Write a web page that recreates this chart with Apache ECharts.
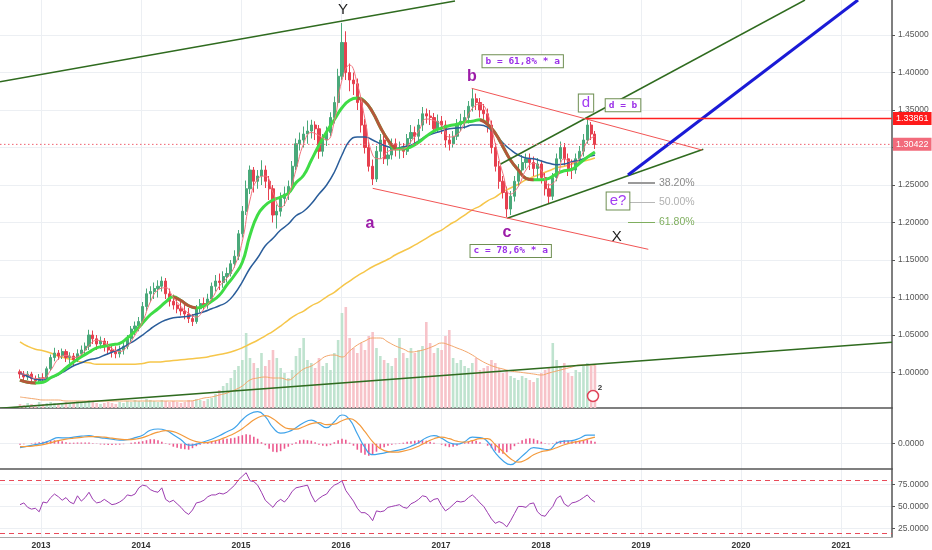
<!DOCTYPE html>
<html>
<head>
<meta charset="utf-8">
<title>USDCAD weekly</title>
<script src="https://cdn.jsdelivr.net/npm/echarts@6/dist/echarts.min.js"></script>
<style>
  html, body { margin: 0; padding: 0; background: #fff; }
  #chart { width: 932px; height: 550px; }
</style>
</head>
<body>
<div id="chart"></div>
<script>
// bars are two weeks apart, time is kept in fractional years
const firstBar = 2012.79;
const barStep = 14 / 365.25;

// [open, close, low, high]
const candles = [
  [1.001,0.998,0.992,1.004],[0.998,0.994,0.989,1.002],[0.994,0.998,0.990,1.002],[0.998,0.992,0.987,1.001],
  [0.992,0.989,0.984,0.996],[0.989,0.993,0.985,0.998],[0.993,0.992,0.986,0.999],[0.992,1.005,0.990,1.008],
  [1.005,1.020,1.002,1.024],[1.020,1.026,1.015,1.033],[1.026,1.022,1.017,1.030],[1.022,1.028,1.018,1.032],
  [1.028,1.020,1.014,1.031],[1.020,1.022,1.012,1.027],[1.022,1.017,1.010,1.026],[1.017,1.025,1.014,1.031],
  [1.025,1.030,1.020,1.036],[1.030,1.035,1.022,1.040],[1.035,1.050,1.030,1.057],[1.050,1.045,1.038,1.056],
  [1.045,1.038,1.030,1.050],[1.038,1.042,1.032,1.048],[1.042,1.035,1.028,1.046],[1.035,1.030,1.024,1.042],
  [1.030,1.028,1.020,1.037],[1.028,1.025,1.019,1.035],[1.025,1.030,1.020,1.036],[1.030,1.035,1.024,1.040],
  [1.035,1.045,1.031,1.050],[1.045,1.058,1.040,1.062],[1.058,1.062,1.050,1.068],[1.062,1.068,1.055,1.074],
  [1.068,1.088,1.063,1.094],[1.088,1.105,1.082,1.112],[1.105,1.108,1.094,1.115],[1.108,1.112,1.098,1.120],
  [1.112,1.115,1.100,1.123],[1.115,1.122,1.108,1.128],[1.122,1.105,1.098,1.126],[1.105,1.095,1.088,1.112],
  [1.095,1.090,1.084,1.104],[1.090,1.085,1.079,1.097],[1.085,1.082,1.076,1.094],[1.082,1.078,1.071,1.090],
  [1.078,1.072,1.066,1.086],[1.072,1.068,1.062,1.078],[1.068,1.085,1.065,1.090],[1.085,1.092,1.080,1.098],
  [1.092,1.090,1.083,1.100],[1.090,1.098,1.085,1.105],[1.098,1.115,1.094,1.120],[1.115,1.122,1.108,1.130],
  [1.122,1.120,1.110,1.132],[1.120,1.128,1.113,1.135],[1.128,1.132,1.120,1.140],[1.132,1.145,1.128,1.150],
  [1.145,1.155,1.140,1.163],[1.155,1.185,1.150,1.190],[1.185,1.215,1.180,1.222],[1.215,1.245,1.210,1.256],
  [1.245,1.270,1.238,1.276],[1.270,1.255,1.240,1.274],[1.255,1.262,1.245,1.270],[1.262,1.270,1.250,1.283],
  [1.270,1.255,1.246,1.276],[1.255,1.245,1.230,1.262],[1.245,1.210,1.200,1.250],[1.210,1.215,1.192,1.224],
  [1.215,1.232,1.208,1.240],[1.232,1.238,1.222,1.248],[1.238,1.248,1.230,1.256],[1.248,1.275,1.242,1.282],
  [1.275,1.305,1.270,1.312],[1.305,1.310,1.296,1.320],[1.310,1.318,1.300,1.328],[1.318,1.322,1.305,1.336],
  [1.322,1.330,1.312,1.337],[1.330,1.325,1.310,1.335],[1.325,1.295,1.285,1.330],[1.295,1.310,1.288,1.318],
  [1.310,1.320,1.302,1.328],[1.320,1.340,1.315,1.347],[1.340,1.360,1.332,1.368],[1.360,1.395,1.355,1.405],
  [1.395,1.440,1.390,1.466],[1.440,1.400,1.390,1.455],[1.400,1.390,1.375,1.412],[1.390,1.385,1.370,1.400],
  [1.385,1.360,1.350,1.392],[1.360,1.330,1.320,1.366],[1.330,1.300,1.292,1.338],[1.300,1.275,1.268,1.308],
  [1.275,1.258,1.250,1.284],[1.258,1.295,1.254,1.302],[1.295,1.310,1.285,1.318],[1.310,1.285,1.278,1.316],
  [1.285,1.290,1.276,1.300],[1.290,1.305,1.284,1.312],[1.305,1.298,1.288,1.312],[1.298,1.300,1.285,1.308],
  [1.300,1.295,1.286,1.306],[1.295,1.312,1.290,1.318],[1.312,1.320,1.305,1.330],[1.320,1.315,1.306,1.328],
  [1.315,1.330,1.310,1.338],[1.330,1.345,1.322,1.354],[1.345,1.342,1.332,1.352],[1.342,1.340,1.330,1.350],
  [1.340,1.325,1.318,1.346],[1.325,1.335,1.320,1.344],[1.335,1.330,1.318,1.342],[1.330,1.310,1.300,1.336],
  [1.310,1.305,1.296,1.318],[1.305,1.315,1.300,1.322],[1.315,1.330,1.310,1.338],[1.330,1.335,1.322,1.345],
  [1.335,1.340,1.325,1.350],[1.340,1.355,1.332,1.362],[1.355,1.365,1.348,1.379],[1.365,1.360,1.350,1.372],
  [1.360,1.350,1.340,1.366],[1.350,1.345,1.335,1.358],[1.345,1.330,1.320,1.352],[1.330,1.300,1.292,1.336],
  [1.300,1.275,1.268,1.306],[1.275,1.255,1.245,1.282],[1.255,1.240,1.232,1.262],[1.240,1.218,1.207,1.248],
  [1.218,1.235,1.210,1.242],[1.235,1.255,1.228,1.262],[1.255,1.270,1.248,1.278],[1.270,1.280,1.262,1.290],
  [1.280,1.285,1.272,1.292],[1.285,1.280,1.270,1.292],[1.280,1.272,1.262,1.288],[1.272,1.278,1.258,1.286],
  [1.278,1.260,1.252,1.283],[1.260,1.245,1.236,1.266],[1.245,1.235,1.226,1.252],[1.235,1.260,1.230,1.266],
  [1.260,1.285,1.255,1.292],[1.285,1.300,1.280,1.308],[1.300,1.285,1.276,1.306],[1.285,1.272,1.262,1.292],
  [1.272,1.270,1.258,1.284],[1.270,1.285,1.265,1.292],[1.285,1.295,1.280,1.302],[1.295,1.310,1.288,1.318],
  [1.310,1.330,1.305,1.339],[1.330,1.318,1.310,1.334],[1.318,1.304,1.298,1.322]
];

const volumes = [
  4,3,5,4,3,6,4,5,6,5, 4,5,6,4,5,7,5,6,8,6, 5,4,5,6,5,4,6,5,7,6,
  8,7,6,9,8,7,6,8,7,6, 7,6,5,6,8,7,9,8,7,9, 10,14,18,22,25,30,38,42,48,75,
  50,45,40,55,42,48,58,50,40,35, 30,38,52,60,70,48,45,40,50,42, 45,38,55,68,95,101,70,60,55,65,
  58,72,76,60,52,48,45,42,50,70, 55,50,60,55,58,62,86,65,55,60, 58,72,78,50,45,48,42,40,45,50,
  38,40,42,48,45,40,35,38,32,30, 28,32,30,28,26,30,35,38,40,65, 48,42,45,35,32,38,36,42,45,42,
  44
];

// moving averages, read every second bar (four weeks)
const fastMA = [
  0.998,0.997,0.992,0.992,1.003,1.018,1.023,1.020,1.024,1.036,
  1.043,1.040,1.032,1.028,1.035,1.050,1.068,1.094,1.110,1.113,
  1.100,1.088,1.079,1.074,1.085,1.098,1.115,1.126,1.142,1.175,
  1.230,1.258,1.262,1.240,1.220,1.236,1.270,1.305,1.320,1.316,
  1.310,1.335,1.390,1.410,1.385,1.338,1.290,1.285,1.295,1.297,
  1.298,1.308,1.322,1.338,1.336,1.330,1.314,1.317,1.333,1.352,
  1.358,1.345,1.305,1.265,1.238,1.248,1.270,1.279,1.270,1.250,
  1.258,1.285,1.280,1.285,1.308,1.315
];
const trendMA = [
  0.990,0.987,0.986,0.987,0.993,0.998,1.006,1.014,1.021,1.027,
  1.033,1.035,1.037,1.039,1.046,1.055,1.066,1.077,1.085,1.094,
  1.101,1.096,1.089,1.086,1.089,1.095,1.103,1.117,1.130,1.147,
  1.183,1.210,1.223,1.230,1.234,1.239,1.253,1.263,1.283,1.303,
  1.321,1.337,1.353,1.363,1.366,1.361,1.347,1.327,1.310,1.298,
  1.298,1.301,1.307,1.315,1.322,1.326,1.329,1.331,1.334,1.335,
  1.337,1.331,1.319,1.301,1.283,1.270,1.259,1.257,1.257,1.259,
  1.265,1.269,1.271,1.279,1.287,1.294
];
const slowMA = [
  0.999,0.995,0.991,0.990,0.993,0.997,1.003,1.009,1.013,1.017,
  1.019,1.023,1.027,1.031,1.037,1.043,1.050,1.058,1.065,1.070,
  1.073,1.074,1.075,1.078,1.081,1.085,1.089,1.094,1.105,1.121,
  1.139,1.153,1.169,1.179,1.190,1.198,1.209,1.215,1.225,1.238,
  1.250,1.267,1.290,1.309,1.314,1.314,1.310,1.305,1.301,1.299,
  1.301,1.303,1.309,1.315,1.319,1.322,1.325,1.326,1.327,1.330,
  1.330,1.327,1.318,1.306,1.297,1.290,1.286,1.285,1.282,1.279,
  1.277,1.278,1.281,1.283,1.287,1.290
];
const ma200 = [
  1.041,1.035,1.031,1.029,1.026,1.022,1.019,1.017,1.014,1.013,
  1.011,1.011,1.011,1.011,1.011,1.011,1.012,1.014,1.014,1.015,
  1.016,1.017,1.018,1.019,1.020,1.022,1.024,1.026,1.029,1.033,
  1.038,1.043,1.049,1.055,1.062,1.070,1.077,1.082,1.089,1.094,
  1.101,1.107,1.115,1.122,1.129,1.135,1.141,1.146,1.151,1.157,
  1.162,1.167,1.173,1.179,1.185,1.190,1.197,1.203,1.210,1.217,
  1.222,1.229,1.234,1.241,1.246,1.251,1.257,1.261,1.265,1.269,
  1.273,1.275,1.278,1.281,1.283,1.286
];
const volumeMA = [
  11,10,9,8,8,8,7,7,7,7, 7,7,7,7,7,7,7,7,7,7,
  7,7,7,8,10,11,13,15,18,22, 28,30,31,30,30,28,33,39,42,47,
  52,53,51,57,63,67,70,70,66,62, 59,56,57,59,62,65,63,60,57,53,
  48,44,41,39,37,36,35,34,33,35, 37,39,41,43,43,43
];

// MACD in thousandths of a price unit, same four-week spacing
const macdLine = [
  -4,-2.5,-1,0.5,3.5,6,5.8,6.5,7.5,8,
  6.5,5.5,4.5,3.5,4,6,8.5,13.5,14.7,13.5,
  9,4,-1.5,-0.5,2,4.5,8,12,16,24,
  30,32,27,16,10.5,12,16,21,23.5,20,
  16,22,28.7,24,10,-4,-11,-10,-8.5,-7,
  -5.5,-2.5,1,6,8,5.5,1,-0.5,2,6.5,
  6,2,-9,-17,-21,-16,-9,-4,-5,-6,
  0.5,2.5,3,5.5,8.5,8.5
];
const signalLine = [
  -3,-2.8,-2,-1,1,3,4.5,5.5,6.3,7,
  7,6.5,5.5,4.5,4,4.5,6,9,11.5,13,
  12,9,5,2,1,2,4,7,10.5,15,
  21,26,28,25,19,15,14.5,17,20,21,
  19,19.5,23,25,21,12,2,-5,-8,-8.5,
  -7.5,-5.5,-2.5,1.5,5,6.5,5,2.5,1.5,3,
  5,5,-1,-8,-15,-18.5,-16,-11,-8,-6.5,
  -4,-1,1,2.5,4.5,6.5
];
// histogram, one value per bar
const macdHist = [
  -1,-0.5,0,0.5,1,1.5,2,2.5,3,3.5,
  3.5,2.5,1.5,1,1,1.2,1.2,1.3,1.2,0.5,
  -0.3,-0.8,-1,-1.2,-1.2,-1,-1,-0.5,0,1,
  1.5,2,2.5,3.5,4.5,4.5,3.5,2,0.5,-1,
  -3,-4,-5,-5.5,-6,-4.5,-2.5,-1,0.5,1.5,
  2.5,3,4,4.5,5,5.5,6,7.5,8.5,9.5,
  9,7,5,1.5,-1.5,-5,-8,-8.5,-7.5,-5,
  -3,-1,1.5,3.5,4,3.5,3,1.5,-1,-2,
  -2.5,-1.5,1.5,3.5,5,4,1,-2,-6,-9,
  -11,-12,-11,-8,-5,-3.5,-2,-1,-0.5,0.5,
  1,2,2.5,3,3.5,3.5,3,2,1,0,
  -1,-2.5,-3.5,-3,-2,0,1,2,3,3,
  1.5,0,-2,-4.5,-7,-9,-10,-8.5,-6,-2.5,
  1,3.5,5,5.5,5,3.5,2,0.5,-0.5,0.5,
  2,3,3.5,3,2.5,2.5,3,3.5,4,3,
  2
];
const rsi = [
  52,54,49,47,48,44,55,54,60,64,
  61,57,60,55,53,62,56,60,66,58,
  54,55,58,55,52,53,55,58,63,62,
  64,71,74,73,69,67,66,71,58,55,
  57,53,49,44,41,46,54,55,57,61,
  63,63,65,64,66,70,74,80,84,88,
  79,78,74,66,57,53,49,55,58,55,
  60,67,71,72,73,74,63,55,59,62,
  64,70,74,76,79,68,62,56,48,43,
  43,40,34,45,44,45,49,50,51,52,
  49,48,53,55,58,62,61,55,58,59,
  51,45,48,52,56,55,56,60,63,59,
  54,50,43,36,31,33,31,27,34,42,
  50,50,49,53,54,44,40,39,45,50,
  59,62,53,50,54,55,57,60,63,58,
  55
];
const rsiBands = [80, 20];

const lastPrice = 1.30422;
const dLevel = 1.33861;
const dTime = 2018.45;

const yearTicks = [2013, 2014, 2015, 2016, 2017, 2018, 2019, 2020, 2021];
const priceTicks = [1.00, 1.05, 1.10, 1.15, 1.20, 1.25, 1.30, 1.35, 1.40, 1.45];
// 1.30 sits under the last-price tag
const priceLabels = [1.00, 1.05, 1.10, 1.15, 1.20, 1.25, 1.35, 1.40, 1.45];
const macdTicks = [0];
const rsiTicks = [25, 50, 75];

// hand-drawn lines: [t1, price1, t2, price2, kind]
const drawings = [
  [2012.59, 1.3877, 2017.14, 1.4953, 'trend'],
  [2012.59, 0.9523, 2021.51, 1.0403, 'trend'],
  [2017.597, 1.278, 2020.64, 1.4967, 'trend'],
  [2017.663, 1.2056, 2019.623, 1.2976, 'trend'],
  [2017.307, 1.3789, 2019.61, 1.2967, 'channel'],
  [2016.317, 1.2456, 2019.073, 1.1643, 'channel'],
  [2018.87, 1.2633, 2021.17, 1.4967, 'target'],
  [2018.87, 1.2527, 2019.14, 1.2527, 'fib38'],
  [2018.87, 1.2273, 2019.14, 1.2273, 'fib50'],
  [2018.87, 1.2007, 2019.14, 1.2007, 'fib62']
];

// text notes: [t, price, text, kind]
const notes = [
  [2016.02, 1.4833, 'Y', 'wave'],
  [2017.31, 1.394, 'b', 'leg'],
  [2016.29, 1.198, 'a', 'leg'],
  [2017.66, 1.186, 'c', 'leg'],
  [2018.757, 1.1807, 'X', 'wave'],
  [2018.45, 1.3593, 'd', 'boxBig'],
  [2018.77, 1.2287, 'e?', 'boxBig'],
  [2018.82, 1.3563, 'd = b', 'boxSmall'],
  [2017.817, 1.415, 'b = 61,8% * a', 'boxSmall'],
  [2017.697, 1.162, 'c = 78,6% * a', 'boxSmall'],
  [2019.18, 1.2527, '38.20%', 'fib38'],
  [2019.18, 1.2273, '50.00%', 'fib50'],
  [2019.18, 1.2007, '61.80%', 'fib62']
];

const xMin = 2012.59, xMax = 2021.51;
const UP = '#4aa97a', DOWN = '#e6404f';
const FONT = 'Liberation Sans';

const barT = candles.map((_, i) => firstBar + i * barStep);
const maT = fastMA.map((_, k) => barT[k * 2]);
const pairs = (ts, vs) => vs.map((v, i) => [ts[i], v]);

// brown overlay where the trend MA is falling
const trendDown = trendMA.map((v, k) => {
  const prev = trendMA[k - 1], next = trendMA[k + 1];
  const falling = (prev !== undefined && v < prev) || (next !== undefined && next < v);
  return [maT[k], falling ? v : '-'];
});

const lineStyles = {
  trend: { color: '#2f6b1f', width: 1.5, opacity: 1 },
  channel: { color: '#f25555', width: 1, opacity: 1 },
  target: { color: '#1a1ad6', width: 3, opacity: 1 },
  fib38: { color: '#9a9a9a', width: 2, opacity: 1 },
  fib50: { color: '#b8b8b8', width: 1, opacity: 1 },
  fib62: { color: '#7fae5e', width: 1, opacity: 1 }
};
const box = { backgroundColor: '#fff', borderColor: '#6f8f52', borderWidth: 1 };
const noteStyles = {
  wave: { color: '#222', fontSize: 15, fontFamily: FONT },
  leg: { color: '#9c1ca8', fontSize: 16, fontWeight: 'bold', fontFamily: FONT },
  boxBig: Object.assign({ color: '#a23cf2', fontSize: 15, fontFamily: FONT, padding: [1, 3] }, box),
  boxSmall: Object.assign({ color: '#9b30e8', fontSize: 9.5, fontWeight: 'bold', fontFamily: 'DejaVu Sans Mono', padding: [1, 3] }, box),
  fib38: { color: '#8a8a8a', fontSize: 10.5, fontFamily: FONT, position: 'right', distance: 0 },
  fib50: { color: '#b0b0b0', fontSize: 10.5, fontFamily: FONT, position: 'right', distance: 0 },
  fib62: { color: '#7fae5e', fontSize: 10.5, fontFamily: FONT, position: 'right', distance: 0 }
};

const chart = echarts.init(document.getElementById('chart'));

const axisText = { color: '#555', fontSize: 8.5, fontFamily: FONT, margin: 6 };
const gridLine = { show: true, lineStyle: { color: '#eceff3', width: 1 } };

function xAxisFor(i) {
  return {
    type: 'value', gridIndex: i, min: xMin, max: xMax,
    axisLine: { show: true, onZero: false, lineStyle: { color: i < 2 ? '#555' : '#aaa', width: i < 2 ? 1.5 : 1 } },
    axisTick: { show: false, customValues: yearTicks },
    axisLabel: {
      show: i === 2, customValues: yearTicks, formatter: (v) => String(Math.round(v)),
      color: '#333', fontWeight: 'bold', fontSize: 8.5, fontFamily: FONT, margin: 4
    },
    splitLine: gridLine
  };
}

function yAxisFor(grid, min, max, ticks, labels, fmt) {
  return {
    type: 'value', gridIndex: grid, position: 'right', min: min, max: max,
    axisLine: { show: true, onZero: false, lineStyle: { color: '#555', width: 1.5 } },
    axisTick: { show: true, length: 3, customValues: ticks, lineStyle: { color: '#555' } },
    axisLabel: Object.assign({ customValues: labels, formatter: fmt }, axisText),
    splitLine: gridLine
  };
}

// horizontal price level with its tag on the price scale
function priceLevel(name, from, value, style, tagColor) {
  return {
    name: name, type: 'line', xAxisIndex: 0, yAxisIndex: 0, showSymbol: false, z: 7, clip: false, silent: true,
    lineStyle: style, data: [[from, value], [xMax, value]],
    endLabel: {
      show: true, distance: 1, color: '#fff', backgroundColor: tagColor, fontSize: 9,
      fontFamily: FONT, padding: [2, 3], formatter: value.toFixed(5)
    }
  };
}

const option = {
  animation: false,
  backgroundColor: '#fff',
  grid: [
    { left: 0, top: 0, width: 892, height: 408, outerBoundsMode: 'none', containLabel: false },
    { left: 0, top: 408, width: 892, height: 61, outerBoundsMode: 'none', containLabel: false },
    { left: 0, top: 469, width: 892, height: 68, outerBoundsMode: 'none', containLabel: false }
  ],
  xAxis: [xAxisFor(0), xAxisFor(1), xAxisFor(2)],
  yAxis: [
    yAxisFor(0, 0.9527, 1.4967, priceTicks, priceLabels, (v) => v.toFixed(5)),
    { type: 'value', gridIndex: 0, min: 0, max: 408, show: false, splitLine: { show: false } },
    yAxisFor(1, -25.3, 35.7, macdTicks, macdTicks, (v) => (v / 1000).toFixed(4)),
    yAxisFor(2, 15.6, 92.2, rsiTicks, rsiTicks, (v) => v.toFixed(4))
  ],
  series: [
    {
      name: 'Volume', type: 'bar', xAxisIndex: 0, yAxisIndex: 1, barWidth: 2.6, z: 1,
      data: volumes.map((v, i) => ({
        value: [barT[i], v],
        itemStyle: { color: candles[i][1] >= candles[i][0] ? '#bfe3cf' : '#f7c3c9' }
      }))
    },
    {
      name: 'Volume MA', type: 'line', xAxisIndex: 0, yAxisIndex: 1, showSymbol: false, smooth: true, z: 2,
      lineStyle: { color: '#f3a66a', width: 1 }, data: pairs(maT, volumeMA)
    },
    {
      name: 'MA 200', type: 'line', xAxisIndex: 0, yAxisIndex: 0, showSymbol: false, smooth: true, z: 2,
      lineStyle: { color: '#f6c64a', width: 1.5 }, data: pairs(maT, ma200)
    },
    {
      name: 'USDCAD', type: 'candlestick', xAxisIndex: 0, yAxisIndex: 0, barWidth: 2.6, z: 3,
      dimensions: ['t', 'open', 'close', 'low', 'high'],
      encode: { x: 't', y: ['open', 'close', 'low', 'high'] },
      itemStyle: { color: UP, color0: DOWN, borderColor: UP, borderColor0: DOWN, borderWidth: 1 },
      data: candles.map((c, i) => [barT[i]].concat(c))
    },
    priceLevel('Last price', xMin, lastPrice, { type: [1.5, 2.5], color: '#f0606f', width: 1 }, '#f26b7b'),
    priceLevel('d level', dTime, dLevel, { type: 'solid', color: '#ff2020', width: 1.5 }, '#ff1a1a'),
    {
      name: 'Slow EMA', type: 'line', xAxisIndex: 0, yAxisIndex: 0, showSymbol: false, smooth: true, z: 4,
      lineStyle: { color: '#2a5d9a', width: 1.5 }, data: pairs(maT, slowMA)
    },
    {
      name: 'Trend EMA', type: 'line', xAxisIndex: 0, yAxisIndex: 0, showSymbol: false, smooth: true, z: 4,
      lineStyle: { color: '#3fdc46', width: 3 }, data: pairs(maT, trendMA)
    },
    {
      name: 'Trend EMA falling', type: 'line', xAxisIndex: 0, yAxisIndex: 0, showSymbol: false, smooth: true, z: 4,
      connectNulls: false, lineStyle: { color: '#b4573a', width: 3 }, data: trendDown
    },
    {
      name: 'Fast EMA', type: 'line', xAxisIndex: 0, yAxisIndex: 0, showSymbol: false, smooth: true, z: 4,
      lineStyle: { color: '#f2737d', width: 1 }, data: pairs(maT, fastMA)
    },
    {
      name: 'Drawings', type: 'lines', coordinateSystem: 'cartesian2d', xAxisIndex: 0, yAxisIndex: 0, z: 5,
      clip: true, silent: true, lineStyle: { opacity: 1 },
      data: drawings.map((d) => ({ coords: [[d[0], d[1]], [d[2], d[3]]], lineStyle: lineStyles[d[4]] }))
    },
    {
      name: 'Notes', type: 'scatter', xAxisIndex: 0, yAxisIndex: 0, symbolSize: 0, z: 6, silent: true, clip: false,
      itemStyle: { opacity: 1 },
      data: notes.map((n) => ({
        value: [n[0], n[1]],
        label: Object.assign({ show: true, position: 'inside', formatter: n[2] }, noteStyles[n[3]])
      }))
    },
    {
      name: 'Events', type: 'scatter', xAxisIndex: 0, yAxisIndex: 0, symbol: 'circle', symbolSize: 11, z: 6,
      itemStyle: { color: '#fff', borderColor: '#e0455a', borderWidth: 1.5, opacity: 1 },
      label: { show: true, formatter: '2', position: [11, -6], fontSize: 8, fontWeight: 'bold', color: '#333', fontFamily: FONT },
      data: [[2018.52, 0.9687]]
    },
    {
      name: 'MACD hist', type: 'bar', xAxisIndex: 1, yAxisIndex: 2, barWidth: 1.6,
      itemStyle: { color: '#ec5a8f' }, data: pairs(barT, macdHist)
    },
    {
      name: 'MACD', type: 'line', xAxisIndex: 1, yAxisIndex: 2, showSymbol: false, smooth: true,
      lineStyle: { color: '#3fa3ea', width: 1.2 }, data: pairs(maT, macdLine)
    },
    {
      name: 'Signal', type: 'line', xAxisIndex: 1, yAxisIndex: 2, showSymbol: false, smooth: true,
      lineStyle: { color: '#f39a3c', width: 1.2 }, data: pairs(maT, signalLine)
    },
    {
      name: 'RSI', type: 'line', xAxisIndex: 2, yAxisIndex: 3, showSymbol: false,
      lineStyle: { color: '#9c3bb0', width: 1 }, data: pairs(barT, rsi),
      markLine: {
        silent: true, symbol: ['none', 'none'], label: { show: false },
        lineStyle: { color: '#e94b5a', type: [5, 4], width: 1.2 },
        data: rsiBands.map((b) => ({ yAxis: b }))
      }
    }
  ]
};

chart.setOption(option);
window.addEventListener('resize', () => chart.resize());
</script>
</body>
</html>
